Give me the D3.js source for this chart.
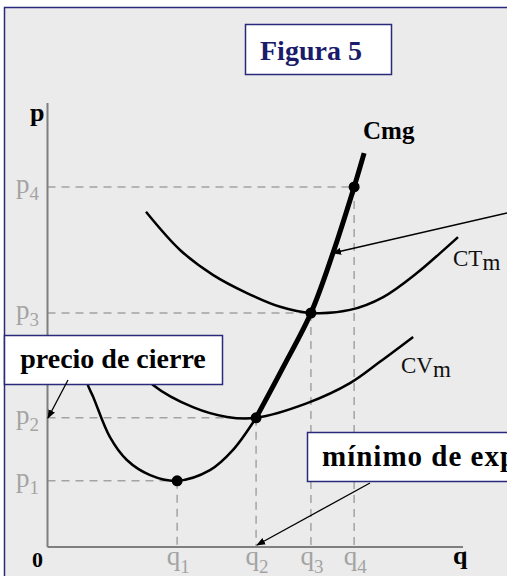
<!DOCTYPE html>
<html>
<head>
<meta charset="utf-8">
<script src="https://cdn.jsdelivr.net/npm/d3@7"></script>
<style>
  body { margin: 0; background: #ffffff; }
</style>
</head>
<body>
<div id="chart"></div>
<script>
// tick values on both axes (same order: 1..4)
var qTicks = ["1", "2", "3", "4"];
var qValues = [31.2, 50.2, 63.4, 73.8];
var pTicks = ["1", "2", "3", "4"];
var pValues = [14.9, 29.1, 52.7, 81.1];

// curves, [q, p]
var cmgThin = [[8.8, 39.9], [9.7, 36.5], [11.0, 33.8], [15.0, 24.8], [19.1, 19.6],
               [24.7, 16.2], [31.2, 14.9], [39.1, 17.3], [44.6, 21.8], [50.2, 29.1]];
var cmgThick = [[50.2, 29.1], [56.6, 40.3], [63.4, 52.7], [68.7, 66.2], [73.8, 81.1], [76.2, 88.7]];
var cvm = [[21.1, 41.0], [25.4, 36.5], [35.0, 31.5], [43.2, 29.3], [50.2, 29.1],
           [62.5, 32.4], [72.8, 36.9], [80.0, 41.7], [88.0, 47.3]];
var ctm = [[23.7, 75.5], [31.9, 66.9], [39.8, 61.3], [48.0, 57.2], [56.0, 54.1], [63.4, 52.7],
           [72.8, 53.4], [80.8, 56.3], [88.9, 61.7], [94.5, 66.2], [98.8, 69.8]];

var w = 507, h = 576;
var navy = "#2a2a7c";
var grey = "#a3a3a3";

var svg = d3.select("#chart").append("svg")
    .attr("width", w)
    .attr("height", h)
    .attr("font-family", "'Liberation Serif', 'Times New Roman', 'DejaVu Serif', serif");

// arrow head marker
svg.append("defs").append("marker")
    .attr("id", "arrow")
    .attr("viewBox", "0 0 10 10")
    .attr("refX", 9).attr("refY", 5)
    .attr("markerWidth", 9).attr("markerHeight", 9)
    .attr("markerUnits", "userSpaceOnUse")
    .attr("orient", "auto")
    .append("path")
    .attr("d", "M0,1 L10,5 L0,9 Z")
    .attr("fill", "#000");

// frame
svg.append("rect")
    .attr("x", 4.5).attr("y", 7.5)
    .attr("width", 520).attr("height", 590)
    .attr("fill", "#ebebeb")
    .attr("stroke", navy)
    .attr("stroke-width", 1.5);

var x = d3.scaleLinear().domain([0, 100]).range([47.5, 463]);
var y = d3.scaleLinear().domain([0, 100]).range([547, 103]);

// dashed guide lines
for (var i = 0; i < qValues.length; i++) {
    svg.append("line")
        .attr("x1", x(0)).attr("y1", y(pValues[i]))
        .attr("x2", x(qValues[i])).attr("y2", y(pValues[i]))
        .attr("stroke", grey).attr("stroke-width", 1.5)
        .attr("stroke-dasharray", "8,6");
    svg.append("line")
        .attr("x1", x(qValues[i])).attr("y1", y(pValues[i]))
        .attr("x2", x(qValues[i])).attr("y2", y(0))
        .attr("stroke", grey).attr("stroke-width", 1.5)
        .attr("stroke-dasharray", "8,6");
}

// axes
svg.append("line")
    .attr("x1", x(0)).attr("y1", y(0)).attr("x2", x(0)).attr("y2", y(100))
    .attr("stroke", "#7f7f7f").attr("stroke-width", 2);
svg.append("line")
    .attr("x1", x(0)).attr("y1", y(0)).attr("x2", x(100)).attr("y2", y(0))
    .attr("stroke", "#7f7f7f").attr("stroke-width", 2);

// tick labels with subscripts
pTicks.forEach(function(t, i) {
    var tx = svg.append("text")
        .attr("x", 39).attr("y", y(pValues[i]) + 6)
        .attr("text-anchor", "end")
        .attr("fill", grey)
        .attr("font-size", 27);
    tx.append("tspan").text("p");
    tx.append("tspan").attr("font-size", 19).attr("dy", 7).text(t);
});
qTicks.forEach(function(t, i) {
    var tx = svg.append("text")
        .attr("x", x(qValues[i]) + 1).attr("y", 565)
        .attr("text-anchor", "middle")
        .attr("fill", grey)
        .attr("font-size", 27);
    tx.append("tspan").text("q");
    tx.append("tspan").attr("font-size", 19).attr("dy", 8).text(t);
});

// axis names
svg.append("text").attr("x", 30).attr("y", 121)
    .attr("font-size", 26).attr("font-weight", "bold").text("p");
svg.append("text").attr("x", 453).attr("y", 564)
    .attr("font-size", 26).attr("font-weight", "bold").text("q");
svg.append("text").attr("x", 32).attr("y", 567)
    .attr("font-size", 22).attr("font-weight", "bold").text("0");

// curves
var line = d3.line()
    .x(function(d) { return x(d[0]); })
    .y(function(d) { return y(d[1]); })
    .curve(d3.curveCatmullRom);

[ctm, cvm, cmgThin].forEach(function(c) {
    svg.append("path").datum(c)
        .attr("d", line)
        .attr("fill", "none").attr("stroke", "#000").attr("stroke-width", 2.5);
});
svg.append("path").datum(cmgThick)
    .attr("d", line)
    .attr("fill", "none").attr("stroke", "#000").attr("stroke-width", 5);

// points
svg.selectAll("circle.pt")
    .data(qValues)
    .enter().append("circle")
    .attr("cx", function(d) { return x(d); })
    .attr("cy", function(d, i) { return y(pValues[i]); })
    .attr("r", 5.5)
    .attr("fill", "#000");

// curve labels
svg.append("text").attr("x", 363).attr("y", 139)
    .attr("font-size", 25).attr("font-weight", "bold").text("Cmg");
var ct = svg.append("text").attr("x", 453).attr("y", 266).attr("font-size", 23).attr("fill", "#111");
ct.append("tspan").text("CT");
ct.append("tspan").attr("dy", 4).text("m");
var cv = svg.append("text").attr("x", 401).attr("y", 373).attr("font-size", 23).attr("fill", "#111");
cv.append("tspan").text("CV");
cv.append("tspan").attr("dy", 4).text("m");

// arrow pointing at Cmg from the right
svg.append("line")
    .attr("x1", 507).attr("y1", 213).attr("x2", 333).attr("y2", 253)
    .attr("stroke", "#000").attr("stroke-width", 1.3)
    .attr("marker-end", "url(#arrow)");

// boxes
svg.append("rect")
    .attr("x", 245.5).attr("y", 24.5).attr("width", 146).attr("height", 50)
    .attr("fill", "#fff").attr("stroke", navy).attr("stroke-width", 1.5);
svg.append("text").attr("x", 260).attr("y", 60)
    .attr("font-size", 28).attr("font-weight", "bold").attr("fill", "#1b1b6b")
    .text("Figura 5");

svg.append("rect")
    .attr("x", 4.5).attr("y", 335.5).attr("width", 218).attr("height", 49)
    .attr("fill", "#fff").attr("stroke", navy).attr("stroke-width", 1.5);
svg.append("text").attr("x", 113).attr("y", 368)
    .attr("text-anchor", "middle")
    .attr("font-size", 28).attr("font-weight", "bold")
    .text("precio de cierre");
svg.append("line")
    .attr("x1", 68).attr("y1", 380).attr("x2", 48).attr("y2", 418)
    .attr("stroke", "#000").attr("stroke-width", 1.3)
    .attr("marker-end", "url(#arrow)");

svg.append("rect")
    .attr("x", 307.5).attr("y", 432.5).attr("width", 260).attr("height", 49)
    .attr("fill", "#fff").attr("stroke", navy).attr("stroke-width", 1.5);
svg.append("text").attr("x", 322).attr("y", 466)
    .attr("font-size", 29).attr("font-weight", "bold")
    .attr("letter-spacing", 1)
    .text("mínimo de explotación");
svg.append("line")
    .attr("x1", 370).attr("y1", 483).attr("x2", 257).attr("y2", 545)
    .attr("stroke", "#000").attr("stroke-width", 1.3)
    .attr("marker-end", "url(#arrow)");
</script>
</body>
</html>
